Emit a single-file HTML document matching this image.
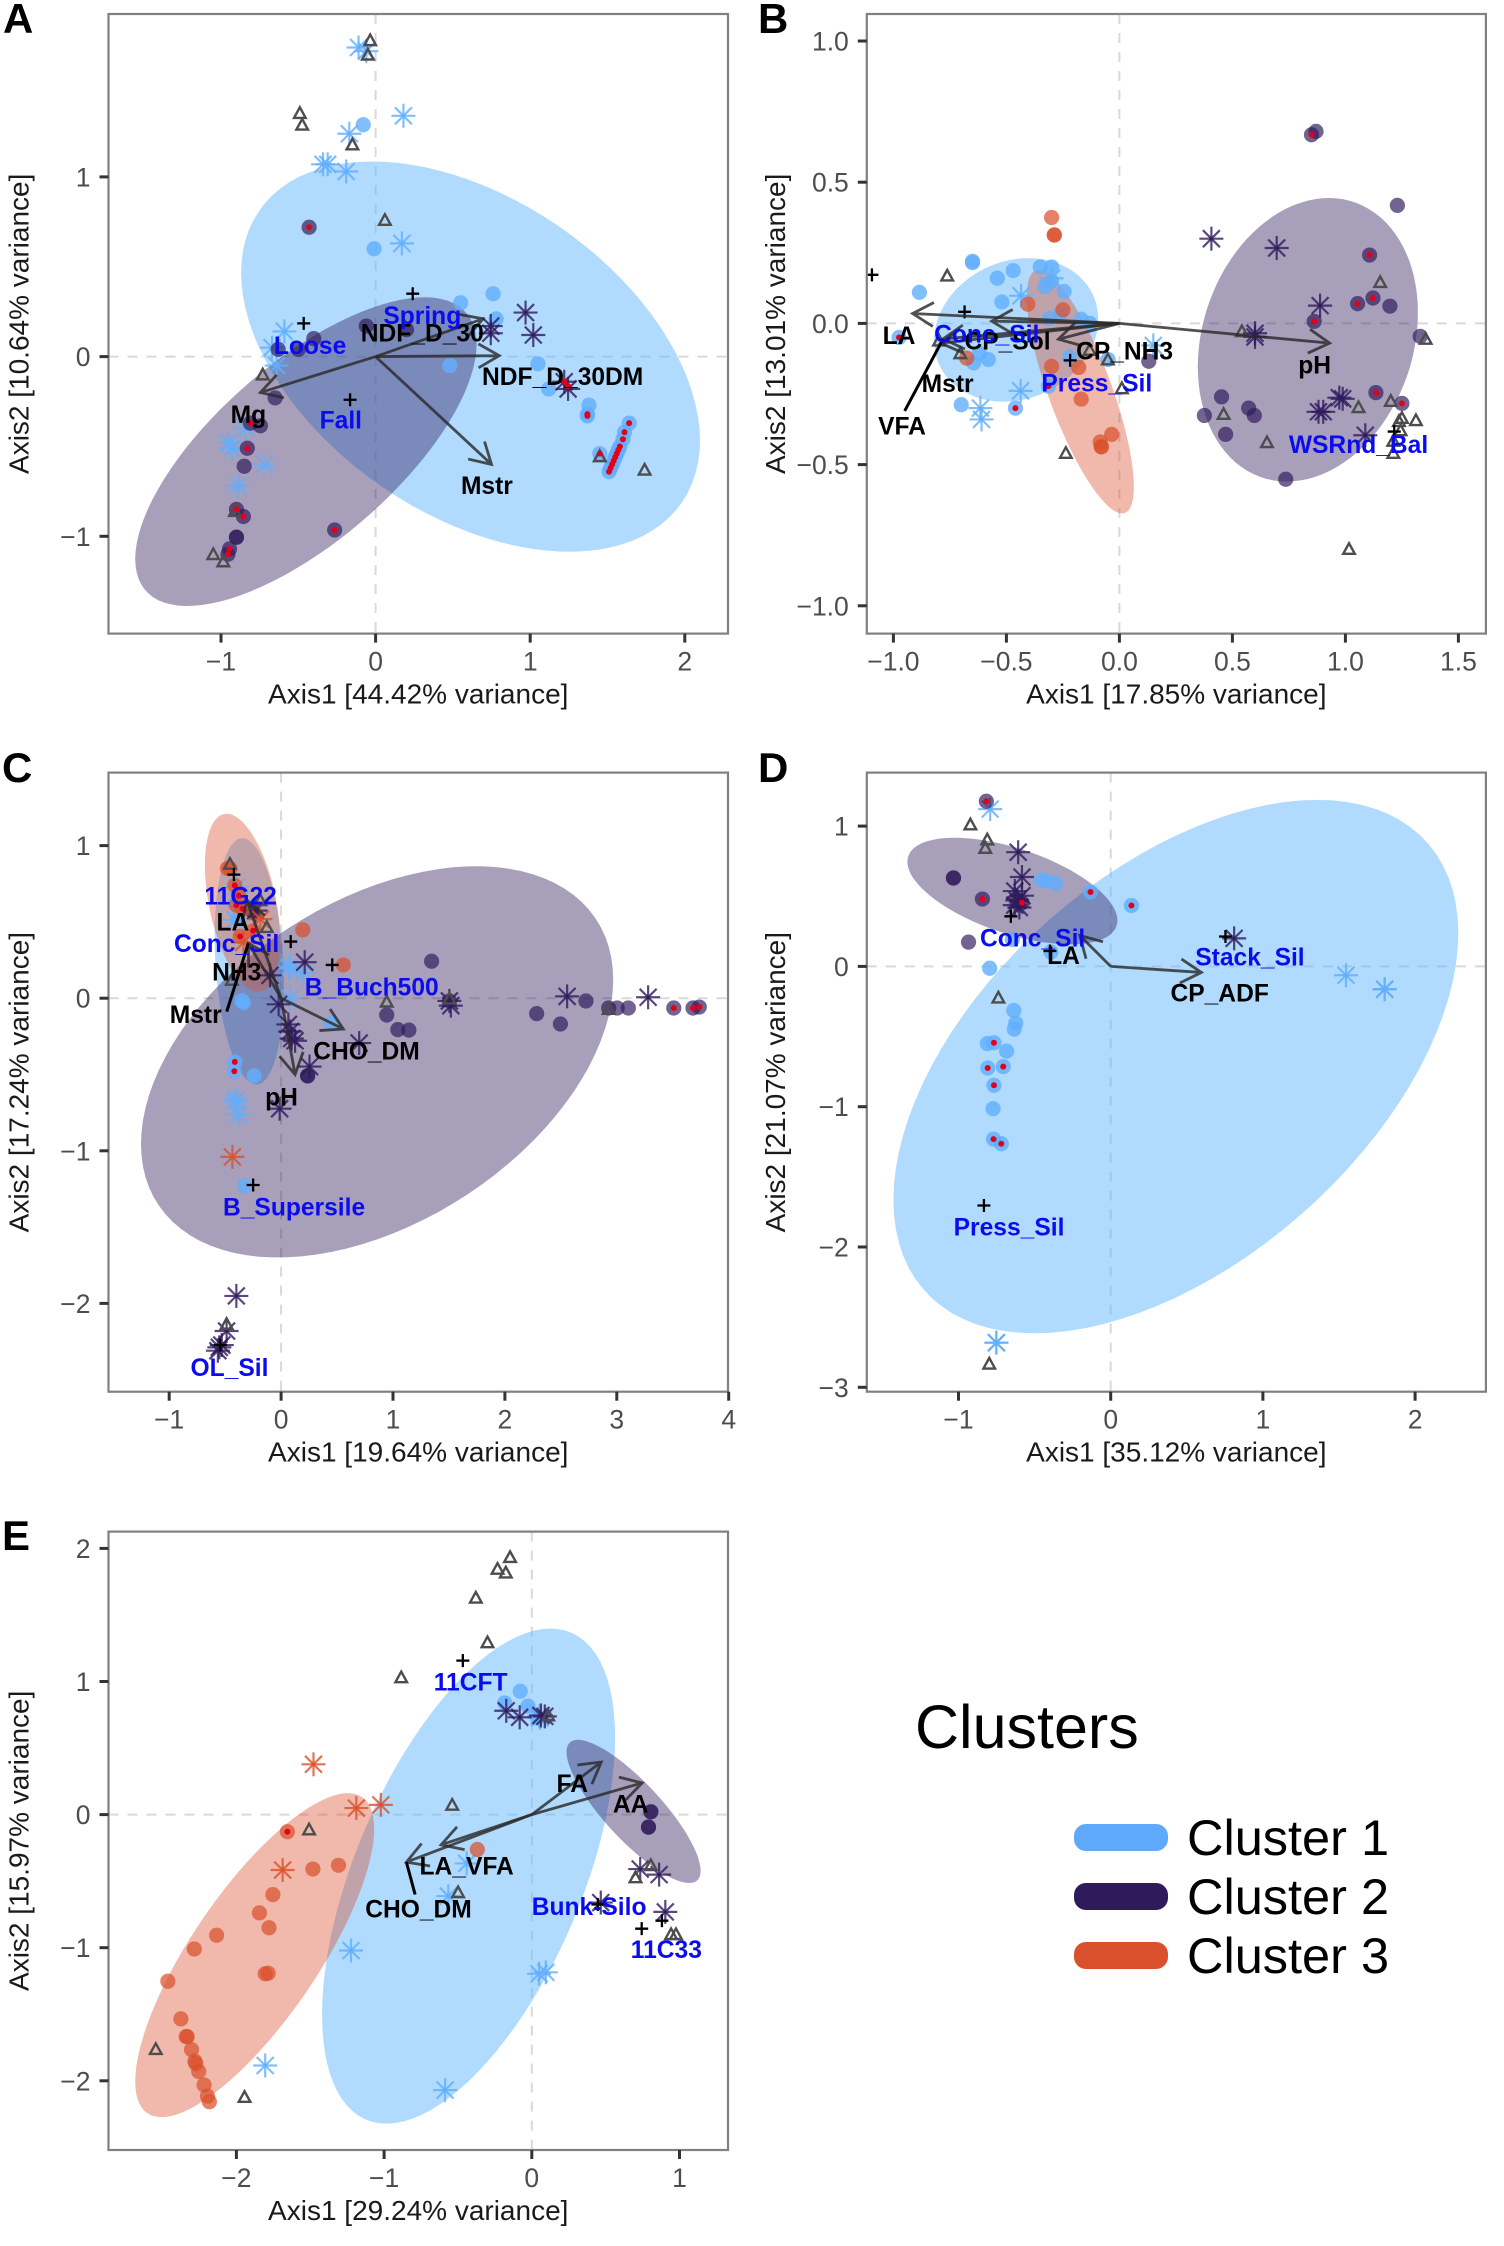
<!DOCTYPE html>
<html lang="en">
<head>
<meta charset="utf-8">
<title>Ordination biplots by cluster</title>
<style>
html,body{margin:0;padding:0;background:#fff;}
svg{display:block;font-family:"Liberation Sans",Arial,sans-serif;}
</style>
</head>
<body>
<svg id="figure" xmlns="http://www.w3.org/2000/svg" width="1504" height="2246" viewBox="0 0 1504 2246">
  <rect x="0" y="0" width="1504" height="2246" fill="#fff"/>
  <g>
    <text x="915" y="1748" font-size="61" fill="#000">Clusters</text>
    <rect x="1074" y="1824" width="94" height="27" rx="12" fill="#5FA9FB"/>
    <text x="1187" y="1855" font-size="50.5" fill="#000">Cluster 1</text>
    <rect x="1074" y="1883" width="94" height="27" rx="12" fill="#2F1A5C"/>
    <text x="1187" y="1914" font-size="50.5" fill="#000">Cluster 2</text>
    <rect x="1074" y="1942" width="94" height="27" rx="12" fill="#D9512C"/>
    <text x="1187" y="1973" font-size="50.5" fill="#000">Cluster 3</text>
  </g>
</svg>
<script>
/* ---------- Panel A data ---------- */
const aXTicks=[-1,0,1,2];
const aXTickLabels=["\u22121","0","1","2"];
const aYTicks=[-1,0,1];
const aYTickLabels=["\u22121","0","1"];
const aBlueEllipse=[0.614,0,1.484,1.086,-0.43];
const aDarkEllipse=[-0.451,-0.529,1.104,0.859,0.695];
const aBlueCircles=[[-0.08,1.29],[-0.01,0.6],[0.55,0.3],[0.76,0.35],[0.78,0.21],[0.48,-0.05],[1.05,-0.04],[1.12,-0.18],[1.38,-0.27],[1.37,-0.32],[1.37,-0.33],[1.45,-0.54],[1.64,-0.37],[1.61,-0.42],[1.6,-0.46],[1.58,-0.5],[1.57,-0.52],[1.56,-0.54],[1.55,-0.56],[1.54,-0.58],[1.53,-0.6],[1.52,-0.62],[1.51,-0.64]];
const aBlueStars=[[-0.11,1.72],[-0.06,1.7],[0.18,1.34],[-0.17,1.24],[-0.31,1.07],[-0.34,1.07],[-0.19,1.03],[0.17,0.63],[-0.59,0.14],[-0.67,0.05],[-0.64,-0.05],[-0.84,-0.4],[-0.95,-0.48],[-0.93,-0.51],[-0.72,-0.6],[-0.89,-0.72]];
const aDarkCircles=[[-0.43,0.72],[-0.4,0.1],[-0.06,0.17],[0.2,0.15],[-0.63,0.04],[-0.5,0.04],[-0.65,-0.23],[-0.745,-0.385],[-0.81,-0.37],[-0.83,-0.51],[-0.85,-0.61],[-0.9,-0.85],[-0.855,-0.89],[-0.265,-0.965],[-0.9,-1.005],[-0.9,-1.005],[-0.945,-1.07],[-0.955,-1.1]];
const aDarkStars=[[0.97,0.245],[1.02,0.12],[0.745,0.17],[0.745,0.13],[1.22,-0.14],[1.245,-0.18]];
const aOrangeCircles=[];
const aOrangeStars=[];
const aTriangles=[[-0.035,1.76],[-0.05,1.68],[-0.49,1.355],[-0.475,1.29],[-0.15,1.18],[0.06,0.76],[-0.73,-0.1],[1.45,-0.555],[1.74,-0.63],[-0.91,-0.86],[-1.05,-1.1],[-0.985,-1.14]];
const aPluses=[[0.24,0.35],[-0.465,0.185],[-0.165,-0.24]];
const aRedDots=[[-0.43,0.72],[-0.81,-0.37],[-0.83,-0.51],[-0.9,-0.85],[-0.855,-0.89],[-0.265,-0.965],[-0.945,-1.07],[-0.955,-1.1],[1.37,-0.32],[1.37,-0.33],[1.45,-0.54],[1.64,-0.37],[1.61,-0.42],[1.6,-0.46],[1.58,-0.5],[1.57,-0.52],[1.56,-0.54],[1.55,-0.56],[1.54,-0.58],[1.53,-0.6],[1.52,-0.62],[1.51,-0.64],[1.22,-0.14],[1.245,-0.164]];
const aArrows=[[0.695,0.21],[0.8,0.005],[0.75,-0.6],[-0.745,-0.2]];
const aSegments=[];
const aBlackLabels=[["Mg",-0.823,-0.328],["NDF_D_30",0.302,0.125],["NDF_D_30DM",1.21,-0.115],["Mstr",0.72,-0.724]];
const aBlueLabels=[["Spring",0.302,0.224],["Loose",-0.424,0.057],["Fall",-0.225,-0.359]];

/* ---------- Panel B data ---------- */
const bXTicks=[-1,-0.5,0,0.5,1,1.5];
const bXTickLabels=["\u22121.0","\u22120.5","0.0","0.5","1.0","1.5"];
const bYTicks=[-1,-0.5,0,0.5,1];
const bYTickLabels=["\u22121.0","\u22120.5","0.0","0.5","1.0"];
const bBlueEllipse=[-0.457,-0.023,0.363,0.254,0.15];
const bDarkEllipse=[0.834,-0.058,0.487,0.502,0.19];
const bOrangeEllipse=[-0.173,-0.242,0.237,0.431,-0.78];
const bBlueCircles=[[-0.65,0.22],[-0.65,0.215],[-0.885,0.11],[-0.54,0.16],[-0.47,0.187],[-0.35,0.2],[-0.3,0.2],[-0.3,0.15],[-0.33,0.13],[-0.245,0.113],[-0.52,0.076],[-0.31,0.018],[-0.26,0.035],[-0.17,0.015],[-0.13,0],[-0.645,-0.14],[-0.58,-0.128],[-0.62,-0.106],[-0.7,-0.288],[-0.22,-0.118],[-0.05,-0.128],[-0.46,-0.3],[-0.975,-0.05],[-0.314,-0.222]];
const bBlueStars=[[-0.435,0.098],[0.15,-0.078],[-0.437,-0.239],[-0.615,-0.3],[-0.61,-0.34],[-0.3,0.16]];
const bDarkCircles=[[0.87,0.68],[0.85,0.668],[1.23,0.418],[1.107,0.242],[1.054,0.07],[1.122,0.09],[1.197,0.061],[0.862,0.007],[1.331,-0.046],[0.13,-0.134],[0.452,-0.26],[0.376,-0.326],[0.47,-0.393],[0.572,-0.3],[0.597,-0.326],[0.736,-0.552],[1.135,-0.245],[1.25,-0.283]];
const bDarkStars=[[0.407,0.3],[0.696,0.267],[0.888,0.063],[0.6,-0.035],[0.6,-0.048],[0.973,-0.263],[0.988,-0.267],[0.881,-0.313],[0.902,-0.313],[1.088,-0.396]];
const bOrangeCircles=[[-0.3,0.375],[-0.288,0.313],[-0.288,0.313],[-0.405,0.068],[-0.25,0.048],[-0.676,-0.123],[-0.3,-0.152],[-0.18,-0.156],[-0.169,-0.268],[-0.034,-0.393],[-0.085,-0.42],[-0.08,-0.437],[-0.08,-0.437]];
const bOrangeStars=[];
const bTriangles=[[-0.762,0.169],[-0.798,-0.061],[-0.704,-0.106],[-0.132,-0.094],[-0.051,-0.128],[0.011,-0.23],[-0.237,-0.459],[0.542,-0.028],[0.461,-0.321],[0.653,-0.421],[1.058,-0.297],[1.154,0.146],[1.201,-0.275],[1.355,-0.055],[1.25,-0.335],[1.237,-0.346],[1.312,-0.343],[1.244,-0.379],[1.212,-0.416],[1.212,-0.459],[1.016,-0.799]];
const bPluses=[[-1.095,0.172],[-0.685,0.041],[-0.218,-0.131],[1.216,-0.383]];
const bRedDots=[[0.85,0.668],[1.107,0.242],[1.054,0.07],[1.122,0.09],[0.862,0.007],[1.135,-0.245],[1.25,-0.283],[-0.46,-0.3],[-0.975,-0.05],[-0.314,-0.222]];
const bArrows=[[-0.915,0.035],[-0.565,0.008],[-0.27,-0.056],[-0.79,-0.07],[-0.78,-0.055],[0.93,-0.07]];
const bSegments=[[-0.78,-0.055,-0.95,-0.31]];
const bBlackLabels=[["LA",-0.975,-0.046],["CP_Sol",-0.495,-0.065],["CP_NH3",0.023,-0.101],["Mstr",-0.76,-0.217],["VFA",-0.962,-0.366],["pH",0.864,-0.151]];
const bBlueLabels=[["Conc_Sil",-0.587,-0.041],["Press_Sil",-0.1,-0.214],["WSRnd_Bal",1.058,-0.432]];

/* ---------- Panel C data ---------- */
const cXTicks=[-1,0,1,2,3,4];
const cXTickLabels=["\u22121","0","1","2","3","4"];
const cYTicks=[-2,-1,0,1];
const cYTickLabels=["\u22122","\u22121","0","1"];
const cBlueEllipse=[-0.284,0.242,0.31,0.807,-0.2];
const cDarkEllipse=[0.858,-0.417,2.11,1.282,0.42];
const cOrangeEllipse=[-0.345,0.626,0.336,0.583,-0.42];
const cBlueCircles=[[-0.336,-0.028],[-0.352,-0.016],[-0.241,-0.509],[-0.414,-0.417],[-0.418,-0.479],[-0.328,-1.23],[-0.41,0.62],[-0.39,0.52],[0.45,-0.165]];
const cBlueStars=[[-0.4,-0.663],[-0.414,-0.678],[-0.379,-0.764],[0.073,0.196],[0.08,0.206],[0.2,0.165],[0.08,0],[-0.397,0.73],[-0.412,0.513],[-0.371,0.64]];
const cDarkCircles=[[1.345,0.242],[0.944,-0.11],[1.043,-0.206],[1.142,-0.209],[2.284,-0.101],[2.496,-0.169],[2.724,-0.018],[2.927,-0.064],[3.004,-0.064],[3.103,-0.064],[3.509,-0.064],[3.681,-0.064],[3.737,-0.058],[1.504,-0.018],[0.237,-0.509],[0.237,-0.509],[-0.25,0.564]];
const cDarkStars=[[0.211,0.236],[-0.022,-0.04],[0.065,-0.172],[0.082,-0.218],[0.095,-0.264],[0.125,-0.279],[0.698,-0.294],[0.254,-0.448],[-0.013,-0.724],[1.517,-0.049],[1.504,-0.018],[2.556,0.012],[3.28,0.006],[-0.4,-1.951],[-0.487,-2.181],[-0.53,-2.273],[-0.552,-2.288],[-0.565,-2.31],[-0.228,0.574],[-0.099,0.15]];
const cOrangeCircles=[[-0.457,0.85],[-0.48,0.85],[0.194,0.448],[0.556,0.218],[-0.379,0.672],[-0.4,0.61],[-0.414,0.739],[-0.345,0.586],[-0.25,0.442],[-0.366,0.405]];
const cOrangeStars=[[-0.435,-1.04],[-0.185,0.518],[-0.336,0.365]];
const cTriangles=[[-0.457,0.88],[-0.185,0.641],[-0.128,0.466],[-0.44,0.12],[0.944,-0.023],[1.504,-0.003],[2.927,-0.071],[-0.487,-2.135]];
const cPluses=[[-0.422,0.81],[0.086,0.371],[0.457,0.218],[-0.25,-1.224],[-0.543,-2.273]];
const cRedDots=[[-0.414,-0.417],[-0.418,-0.479],[3.509,-0.064],[3.681,-0.064],[3.737,-0.058],[-0.379,0.672],[-0.4,0.61],[-0.414,0.739],[-0.345,0.586],[-0.25,0.442],[-0.366,0.405]];
const cArrows=[[-0.307,0.643],[-0.293,0.36],[0.556,-0.202],[0.125,-0.5]];
const cSegments=[[-0.293,0.36,-0.486,-0.088]];
const cBlackLabels=[["LA",-0.431,0.494],["NH3",-0.397,0.166],["Mstr",-0.763,-0.113],["CHO_DM",0.763,-0.353],["pH",0.004,-0.653]];
const cBlueLabels=[["11G22",-0.362,0.663],["Conc_Sil",-0.487,0.353],["B_Buch500",0.81,0.067],["B_Supersile",0.116,-1.374],["OL_Sil",-0.461,-2.426]];

/* ---------- Panel D data ---------- */
const dXTicks=[-1,0,1,2];
const dXTickLabels=["\u22121","0","1","2"];
const dYTicks=[-3,-2,-1,0,1];
const dYTickLabels=["\u22123","\u22122","\u22121","0","1"];
const dBlueEllipse=[0.428,-0.714,1.856,1.901,0.5];
const dDarkEllipse=[-0.646,0.537,0.69,0.38,-0.55];
const dBlueCircles=[[-0.456,0.614],[-0.424,0.61],[-0.361,0.59],[-0.133,0.53],[0.136,0.434],[-0.646,0.193],[-0.393,0.103],[-0.795,-0.013],[-0.637,-0.314],[-0.624,-0.404],[-0.634,-0.447],[-0.811,-0.55],[-0.767,-0.544],[-0.684,-0.604],[-0.808,-0.724],[-0.706,-0.714],[-0.767,-0.847],[-0.773,-1.014],[-0.77,-1.231],[-0.719,-1.264]];
const dBlueStars=[[-0.792,1.121],[1.546,-0.063],[1.8,-0.163],[1.8,-0.163],[-0.751,-2.682],[-0.751,-2.682]];
const dDarkCircles=[[-0.817,1.177],[-1.033,0.63],[-1.033,0.63],[-0.843,0.48],[-0.934,0.173],[-0.583,0.454],[-0.62,0.47]];
const dDarkStars=[[-0.608,0.814],[-0.583,0.637],[-0.63,0.537],[-0.583,0.504],[-0.614,0.47],[-0.63,0.437],[-0.6,0.42],[0.811,0.2]];
const dOrangeCircles=[];
const dOrangeStars=[];
const dTriangles=[[-0.922,1.011],[-0.811,0.904],[-0.824,0.844],[-0.738,-0.223],[-0.798,-2.832]];
const dPluses=[[-0.656,0.357],[-0.399,0.11],[0.754,0.213],[-0.833,-1.704]];
const dRedDots=[[-0.817,1.177],[-0.843,0.48],[-0.583,0.454],[-0.133,0.53],[0.136,0.434],[-0.767,-0.544],[-0.808,-0.724],[-0.706,-0.714],[-0.767,-0.847],[-0.77,-1.231],[-0.719,-1.264]];
const dArrows=[[-0.203,0.22],[0.596,-0.043]];
const dSegments=[];
const dBlackLabels=[["LA",-0.31,0.07],["CP_ADF",0.716,-0.197]];
const dBlueLabels=[["Conc_Sil",-0.513,0.197],["Stack_Sil",0.915,0.06],["Press_Sil",-0.668,-1.865]];

/* ---------- Panel E data ---------- */
const eXTicks=[-2,-1,0,1];
const eXTickLabels=["\u22122","\u22121","0","1"];
const eYTicks=[-2,-1,0,1,2];
const eYTickLabels=["\u22122","\u22121","0","1","2"];
const eBlueEllipse=[-0.428,-0.462,0.992,1.86,0.56];
const eDarkEllipse=[0.689,0.024,0.454,0.538,-0.83];
const eOrangeEllipse=[-1.876,-1.056,0.809,1.217,0.78];
const eBlueCircles=[[-0.078,0.927],[-0.183,0.839],[-0.026,0.815],[0.039,0.727]];
const eBlueStars=[[0.055,0.727],[0.05,0.74],[-0.441,-0.367],[-0.565,-0.612],[-1.224,-1.021],[0.095,-1.185],[0.049,-1.196],[-1.805,-1.885],[-0.587,-2.07]];
const eDarkCircles=[[0.806,0.021],[0.806,0.021],[0.79,-0.094],[0.79,-0.094]];
const eDarkStars=[[-0.173,0.78],[-0.082,0.731],[0.062,0.745],[0.088,0.738],[0.734,-0.409],[0.862,-0.451],[0.467,-0.661],[0.904,-0.731]];
const eOrangeCircles=[[-0.369,-0.262],[-1.655,-0.129],[-1.482,-0.409],[-1.309,-0.381],[-1.753,-0.601],[-1.844,-0.738],[-1.779,-0.85],[-2.134,-0.906],[-2.285,-1.01],[-1.805,-1.196],[-1.785,-1.192],[-2.464,-1.252],[-2.376,-1.535],[-2.34,-1.668],[-2.333,-1.668],[-2.304,-1.766],[-2.281,-1.853],[-2.275,-1.871],[-2.255,-1.93],[-2.219,-2.031],[-2.196,-2.115],[-2.183,-2.157]];
const eOrangeStars=[[-1.478,0.378],[-1.188,0.049],[-1.022,0.073],[-1.687,-0.416]];
const eTriangles=[[-0.147,1.934],[-0.232,1.846],[-0.176,1.818],[-0.379,1.629],[-0.3,1.294],[-0.884,1.031],[0.111,0.745],[-0.539,0.073],[-1.508,-0.112],[-0.499,-0.584],[0.806,-0.381],[0.702,-0.472],[0.943,-0.899],[0.976,-0.899],[-2.546,-1.762],[-1.945,-2.122]];
const ePluses=[[-0.467,1.157],[0.744,-0.857],[0.881,-0.797],[0.447,-0.675]];
const eRedDots=[[-1.655,-0.129]];
const eArrows=[[0.47,0.395],[0.747,0.238],[-0.614,-0.227],[-0.849,-0.357]];
const eSegments=[[-0.849,-0.357,-0.79,-0.6]];
const eBlackLabels=[["FA",0.274,0.227],["AA",0.669,0.073],["LA_VFA",-0.441,-0.395],["CHO_DM",-0.767,-0.717]];
const eBlueLabels=[["11CFT",-0.414,0.99],["Bunk-Silo",0.388,-0.699],["11C33",0.911,-1.021]];

const BLUE="#61AEFD",DARK="#2F1A5C",ORANGE="#D9512C";
const NS="http://www.w3.org/2000/svg";
const figure=document.getElementById("figure");

function mk(parent,tag,props){
  const el=document.createElementNS(NS,tag);
  for(const k in props){el.setAttribute(k,props[k]);}
  parent.appendChild(el);
  return el;
}

function drawPanel(p){
  const sx=v=>p.x0+p.kx*v;
  const sy=v=>p.y0-p.ky*v;
  const g=mk(figure,"g",{});
  
  

  const letter=mk(g,"text",{x:p.letterX,y:p.letterY,"font-size":42,"font-weight":"bold",fill:"#000"});
  letter.textContent=p.id;
  
  

  const clipId="clip"+p.id;
  const clip=mk(figure,"clipPath",{id:clipId});
  mk(clip,"rect",{x:p.left,y:p.top,width:p.right-p.left,height:p.bottom-p.top});
  const plot=mk(g,"g",{"clip-path":"url(#"+clipId+")"});
  
  

  const zx=mk(plot,"line",{x1:sx(0),x2:sx(0),y1:p.top,y2:p.bottom,stroke:"#d9d9d9","stroke-width":2,"stroke-dasharray":"10 9"});
  
  
  const zy=mk(plot,"line",{x1:p.left,x2:p.right,y1:sy(0),y2:sy(0),stroke:"#d9d9d9","stroke-width":2,"stroke-dasharray":"10 9"});
  
  

  function ellipse(e,color,opacity,name){
    if(!e)return;
    const pts=[];
    for(let i=0;i<96;i++){
      const t=i/96*2*Math.PI;
      const dx=e[2]*Math.cos(t);
      const dy=e[3]*(e[4]*Math.cos(t)+Math.sqrt(1-e[4]*e[4])*Math.sin(t));
      pts.push(sx(e[0]+dx).toFixed(1)+","+sy(e[1]+dy).toFixed(1));
    }
    const el=mk(plot,"polygon",{points:pts.join(" "),fill:color,"fill-opacity":opacity});
    
    
  }
  ellipse(p.blueEllipse,"#61B7FD",0.5,'ellipse-cluster-1');
  ellipse(p.darkEllipse,DARK,0.42,'ellipse-cluster-2');
  ellipse(p.orangeEllipse,ORANGE,0.4,'ellipse-cluster-3');

  function circles(list,color,opacity,name){
    list.forEach(d=>{
      const el=mk(plot,"circle",{cx:sx(d[0]),cy:sy(d[1]),r:7.6,fill:color,"fill-opacity":opacity});
      
      
    });
  }
  function stars(list,color,name){
    list.forEach(d=>{
      const cx=sx(d[0]),cy=sy(d[1]),r=12;
      const s=mk(plot,"g",{stroke:color,"stroke-width":2.2,"stroke-opacity":0.8});
      
      
      for(let a=0;a<4;a++){
        const t=a*Math.PI/4;
        mk(s,"line",{x1:cx-r*Math.cos(t),y1:cy-r*Math.sin(t),x2:cx+r*Math.cos(t),y2:cy+r*Math.sin(t)});
      }
    });
  }
  circles(p.blueCircles,BLUE,0.8,'sample-point-cluster-1');
  stars(p.blueStars,BLUE,'sample-star-cluster-1');
  circles(p.darkCircles,DARK,0.68,'sample-point-cluster-2');
  stars(p.darkStars,DARK,'sample-star-cluster-2');
  circles(p.orangeCircles,ORANGE,0.72,'sample-point-cluster-3');
  stars(p.orangeStars,ORANGE,'sample-star-cluster-3');

  p.triangles.forEach(d=>{
    const cx=sx(d[0]),cy=sy(d[1]);
    const el=mk(plot,"polygon",{points:(cx-5.8)+","+(cy+4.8)+" "+(cx+5.8)+","+(cy+4.8)+" "+cx+","+(cy-5.8),fill:"none",stroke:"#4d4d4d","stroke-width":2.4});
    
    
  });
  p.redDots.forEach(d=>{
    const el=mk(plot,"circle",{cx:sx(d[0]),cy:sy(d[1]),r:3,fill:"#E3001B"});
    
    
  });
  p.pluses.forEach(d=>{
    const cx=sx(d[0]),cy=sy(d[1]);
    const el=mk(plot,"path",{d:"M"+(cx-6.5)+" "+cy+"H"+(cx+6.5)+"M"+cx+" "+(cy-6.5)+"V"+(cy+6.5),stroke:"#000","stroke-width":2.3,fill:"none"});
    
    
  });

  p.arrows.forEach(d=>{
    const x1=sx(0),y1=sy(0),x2=sx(d[0]),y2=sy(d[1]);
    const a=Math.atan2(y2-y1,x2-x1),h=24,w=Math.PI/6;
    const path="M"+x1+" "+y1+"L"+x2+" "+y2+
      "M"+(x2-h*Math.cos(a-w))+" "+(y2-h*Math.sin(a-w))+"L"+x2+" "+y2+"L"+(x2-h*Math.cos(a+w))+" "+(y2-h*Math.sin(a+w));
    const el=mk(plot,"path",{d:path,fill:"none",stroke:"#2b2b2b","stroke-width":2.8,"stroke-opacity":0.82});
    
    
  });
  p.segments.forEach(d=>{
    const el=mk(plot,"line",{x1:sx(d[0]),y1:sy(d[1]),x2:sx(d[2]),y2:sy(d[3]),stroke:"#000","stroke-width":3});
    
    
  });

  function labels(list,color,name){
    list.forEach(d=>{
      const el=mk(g,"text",{x:sx(d[1]),y:sy(d[2]),"text-anchor":"middle","dominant-baseline":"central","font-size":24.6,"font-weight":"bold",fill:color});
      el.textContent=d[0];
      
      
    });
  }
  labels(p.blackLabels,"#000",'variable-label');
  labels(p.blueLabels,"#0B0BEF",'factor-label');

  const border=mk(g,"rect",{x:p.left,y:p.top,width:p.right-p.left,height:p.bottom-p.top,fill:"none",stroke:"#808080","stroke-width":2.2});
  
  

  p.xTicks.forEach((v,i)=>{
    const t=mk(g,"line",{x1:sx(v),x2:sx(v),y1:p.bottom,y2:p.bottom+9,stroke:"#333","stroke-width":3});
    
    
    const l=mk(g,"text",{x:sx(v),y:p.bottom+37,"text-anchor":"middle","font-size":26.5,fill:"#4d4d4d"});
    l.textContent=p.xTickLabels[i];
    
    
  });
  p.yTicks.forEach((v,i)=>{
    const t=mk(g,"line",{x1:p.left-9,x2:p.left,y1:sy(v),y2:sy(v),stroke:"#333","stroke-width":3});
    
    
    const l=mk(g,"text",{x:p.left-18,y:sy(v)+9.5,"text-anchor":"end","font-size":26.5,fill:"#4d4d4d"});
    l.textContent=p.yTickLabels[i];
    
    
  });

  const xt=mk(g,"text",{x:(p.left+p.right)/2,y:p.bottom+70,"text-anchor":"middle","font-size":28,fill:"#1a1a1a"});
  xt.textContent=p.xTitle;
  
  
  const cy=(p.top+p.bottom)/2,tx=p.left-p.yTitleGap;
  const yt=mk(g,"text",{x:tx,y:cy,"text-anchor":"middle","font-size":28,fill:"#1a1a1a",transform:"rotate(-90 "+tx+" "+cy+")"});
  yt.textContent=p.yTitle;
  
  
}

drawPanel({id:"A",letterX:3,letterY:33,left:108.5,right:728,top:14,bottom:633.6,x0:375.6,kx:154.6,y0:356.6,ky:179.7,yTitleGap:80,
  xTitle:"Axis1 [44.42% variance]",yTitle:"Axis2 [10.64% variance]",
  xTicks:aXTicks,xTickLabels:aXTickLabels,yTicks:aYTicks,yTickLabels:aYTickLabels,
  blueEllipse:aBlueEllipse,darkEllipse:aDarkEllipse,orangeEllipse:null,
  blueCircles:aBlueCircles,blueStars:aBlueStars,darkCircles:aDarkCircles,darkStars:aDarkStars,orangeCircles:aOrangeCircles,orangeStars:aOrangeStars,
  triangles:aTriangles,pluses:aPluses,redDots:aRedDots,arrows:aArrows,segments:aSegments,blackLabels:aBlackLabels,blueLabels:aBlueLabels});
drawPanel({id:"B",letterX:758,letterY:33,left:866.8,right:1485.9,top:14,bottom:633.6,x0:1119.4,kx:226,y0:323.4,ky:282.4,yTitleGap:82,
  xTitle:"Axis1 [17.85% variance]",yTitle:"Axis2 [13.01% variance]",
  xTicks:bXTicks,xTickLabels:bXTickLabels,yTicks:bYTicks,yTickLabels:bYTickLabels,
  blueEllipse:bBlueEllipse,darkEllipse:bDarkEllipse,orangeEllipse:bOrangeEllipse,
  blueCircles:bBlueCircles,blueStars:bBlueStars,darkCircles:bDarkCircles,darkStars:bDarkStars,orangeCircles:bOrangeCircles,orangeStars:bOrangeStars,
  triangles:bTriangles,pluses:bPluses,redDots:bRedDots,arrows:bArrows,segments:bSegments,blackLabels:bBlackLabels,blueLabels:bBlueLabels});
drawPanel({id:"C",letterX:2,letterY:782,left:108.5,right:728,top:772.6,bottom:1391.7,x0:281.1,kx:111.9,y0:998.2,ky:152.6,yTitleGap:80,
  xTitle:"Axis1 [19.64% variance]",yTitle:"Axis2 [17.24% variance]",
  xTicks:cXTicks,xTickLabels:cXTickLabels,yTicks:cYTicks,yTickLabels:cYTickLabels,
  blueEllipse:cBlueEllipse,darkEllipse:cDarkEllipse,orangeEllipse:cOrangeEllipse,
  blueCircles:cBlueCircles,blueStars:cBlueStars,darkCircles:cDarkCircles,darkStars:cDarkStars,orangeCircles:cOrangeCircles,orangeStars:cOrangeStars,
  triangles:cTriangles,pluses:cPluses,redDots:cRedDots,arrows:cArrows,segments:cSegments,blackLabels:cBlackLabels,blueLabels:cBlueLabels});
drawPanel({id:"D",letterX:758,letterY:782,left:866.8,right:1485.9,top:772.6,bottom:1391.7,x0:1110.7,kx:152.2,y0:966.4,ky:140.3,yTitleGap:82,
  xTitle:"Axis1 [35.12% variance]",yTitle:"Axis2 [21.07% variance]",
  xTicks:dXTicks,xTickLabels:dXTickLabels,yTicks:dYTicks,yTickLabels:dYTickLabels,
  blueEllipse:dBlueEllipse,darkEllipse:dDarkEllipse,orangeEllipse:null,
  blueCircles:dBlueCircles,blueStars:dBlueStars,darkCircles:dDarkCircles,darkStars:dDarkStars,orangeCircles:dOrangeCircles,orangeStars:dOrangeStars,
  triangles:dTriangles,pluses:dPluses,redDots:dRedDots,arrows:dArrows,segments:dSegments,blackLabels:dBlackLabels,blueLabels:dBlueLabels});
drawPanel({id:"E",letterX:2,letterY:1550,left:108.5,right:728,top:1531.6,bottom:2150,x0:531.8,kx:147.7,y0:1814.6,ky:133.1,yTitleGap:80,
  xTitle:"Axis1 [29.24% variance]",yTitle:"Axis2 [15.97% variance]",
  xTicks:eXTicks,xTickLabels:eXTickLabels,yTicks:eYTicks,yTickLabels:eYTickLabels,
  blueEllipse:eBlueEllipse,darkEllipse:eDarkEllipse,orangeEllipse:eOrangeEllipse,
  blueCircles:eBlueCircles,blueStars:eBlueStars,darkCircles:eDarkCircles,darkStars:eDarkStars,orangeCircles:eOrangeCircles,orangeStars:eOrangeStars,
  triangles:eTriangles,pluses:ePluses,redDots:eRedDots,arrows:eArrows,segments:eSegments,blackLabels:eBlackLabels,blueLabels:eBlueLabels});
</script>
</body>
</html>
